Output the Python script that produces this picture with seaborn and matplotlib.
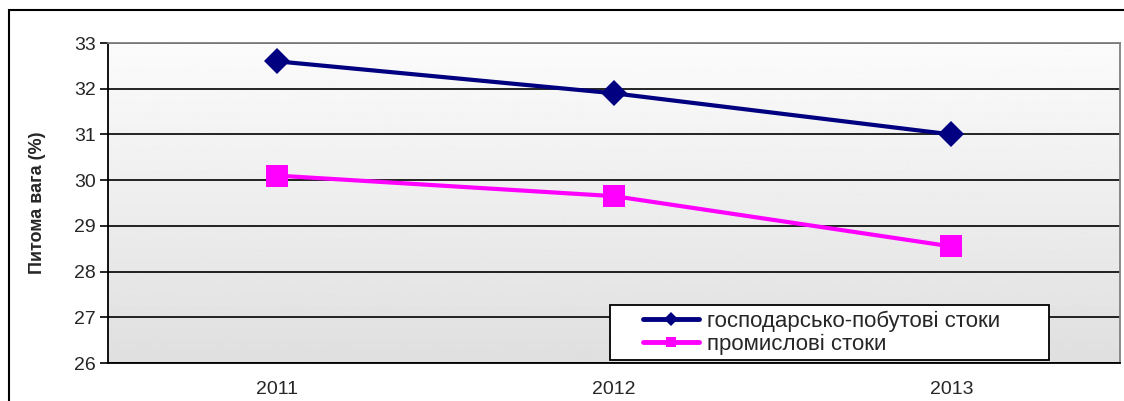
import matplotlib
matplotlib.use("Agg")
import matplotlib.pyplot as plt
import matplotlib.patches as mpatches
import numpy as np
import pandas as pd
import seaborn as sns

# дані
years = ["2011", "2012", "2013"]
series_names = ["господарсько-побутові стоки", "промислові стоки"]
household = [32.6, 31.9, 31.0]
industrial = [30.1, 29.65, 28.55]

df = pd.DataFrame({
    "year": years * 2,
    "value": household + industrial,
    "series": [series_names[0]] * len(years) + [series_names[1]] * len(years),
})

sns.set_style("white")
plt.rcParams["font.family"] = ["Liberation Sans", "DejaVu Sans"]

fig = plt.figure(figsize=(11.24, 4.01), dpi=100)
ax = fig.add_axes([108 / 1124, 1 - 363 / 401, 1012 / 1124, 320 / 401])

# градієнтний фон області побудови
grad = np.linspace(0.985, 0.875, 256).reshape(-1, 1)
ax.imshow(grad, cmap="gray", vmin=0, vmax=1, aspect="auto",
          extent=[0, 1, 0, 1], transform=ax.transAxes, zorder=0)

sns.lineplot(
    data=df, x="year", y="value", hue="series", style="series",
    palette={series_names[0]: "#000080", series_names[1]: "#ff00ff"},
    markers={series_names[0]: "D", series_names[1]: "s"},
    dashes=False, linewidth=3, markersize=13, markeredgewidth=0,
    ax=ax, zorder=3, sort=False,
)
# квадратні маркери трохи більші
for line in ax.get_lines():
    if line.get_marker() == "s":
        line.set_markersize(16)

ax.set_xlim(-0.5, len(years) - 0.5)
ax.set_ylim(26, 33)
ax.set_yticks(range(26, 34))
ax.set_xticks(range(len(years)))
ax.set_xticklabels(years)
ax.set_xticks(np.arange(-0.5, len(years), 1.0), minor=True)
ax.tick_params(axis="x", which="major", length=0, labelsize=14, pad=13)
ax.tick_params(axis="x", which="minor", length=6, width=1.2, direction="out", color="black")
ax.tick_params(axis="y", length=6, width=1.2, direction="out", labelsize=14, pad=3,
               left=True, color="black")

ax.grid(axis="y", color="black", linewidth=1.2, zorder=1)
ax.set_axisbelow(True)
ax.set_xlabel("")
ax.set_ylabel("Питома вага (%)", fontsize=13, fontweight="bold")
ax.yaxis.set_label_coords(-0.061, 0.5)

for side in ["left", "bottom"]:
    ax.spines[side].set_color("black")
    ax.spines[side].set_linewidth(1.3)
for side in ["top", "right"]:
    ax.spines[side].set_color("#808080")
    ax.spines[side].set_linewidth(1.3)

# рамка легенди
ax.add_patch(mpatches.Rectangle(
    (0.496, 0.009), 0.434, 0.172, transform=ax.transAxes,
    facecolor="white", edgecolor="black", linewidth=1.3, zorder=4))

leg = ax.legend(
    loc="center left", bbox_to_anchor=(0.529, 0.095),
    fontsize=16, frameon=False, handlelength=2.5, borderpad=0,
    labelspacing=0.1, handletextpad=0.35, borderaxespad=0,
)
leg.set_zorder(5)
for h in leg.legend_handles:
    h.set_markersize(7)
    h.set_linewidth(3.5)

# зовнішня рамка діаграми
fig.patches.append(mpatches.Rectangle(
    (9 / 1124, -0.2), 1.2, 1.2 - 10 / 401, transform=fig.transFigure,
    fill=False, edgecolor="black", linewidth=1.5))

fig.savefig("out.png", dpi=100)
